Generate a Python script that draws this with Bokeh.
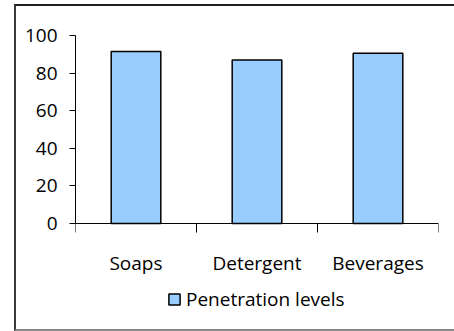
from bokeh.plotting import figure
from bokeh.models import (ColumnDataSource, FixedTicker, Legend, LegendItem,
                          InlineStyleSheet, Range1d)
from bokeh.embed import file_html
from bokeh.resources import INLINE

# Market penetration by product category (%)
categories = ["Soaps", "Detergent", "Beverages"]
penetration = [91.5, 87.0, 90.5]
y_ticks = [0, 20, 40, 60, 80, 100]
series_name = "Penetration levels"

FONT = "Open Sans"
FONT_SIZE = "19px"

# each category occupies one unit; bars sit in the middle of their slot
x_pos = [i + 0.5 for i in range(len(categories))]
source = ColumnDataSource(dict(x=x_pos, top=penetration, cat=categories))

# the plot area runs down to the canvas bottom so the category labels and
# the legend can live inside it, under the zero line
p = figure(width=454, height=331, output_backend="svg", toolbar_location=None,
           x_range=Range1d(0, len(categories)), y_range=Range1d(-57.4, 100),
           min_border_left=75, min_border_right=16,
           min_border_top=35, min_border_bottom=0)

bars = p.vbar(x="x", top="top", bottom=0, width=0.41, source=source,
              fill_color="#99CCFF", line_color="black", line_width=1.5)

p.xgrid.visible = False
p.ygrid.visible = False
p.outline_line_color = None
p.background_fill_color = "white"
p.border_fill_color = "white"

# x axis pinned to the zero line; labels centred under bars,
# tick marks on the category boundaries
xa = p.xaxis[0]
xa.fixed_location = 0
xa.ticker = FixedTicker(ticks=x_pos, minor_ticks=list(range(len(categories) + 1)))
xa.major_label_overrides = {x: c for x, c in zip(x_pos, categories)}
xa.major_tick_out = 0
xa.major_tick_in = 0
xa.minor_tick_out = 9
xa.minor_tick_in = 0
xa.minor_tick_line_color = "black"
xa.axis_line_color = "black"
xa.major_label_standoff = 17
xa.major_label_text_font = FONT
xa.major_label_text_font_size = FONT_SIZE
xa.major_label_text_color = "black"

ya = p.yaxis[0]
ya.bounds = (0, 100)
ya.ticker = FixedTicker(ticks=y_ticks)
ya.major_tick_out = 6
ya.major_tick_in = 0
ya.minor_tick_line_color = None
ya.axis_line_color = "black"
ya.major_tick_line_color = "black"
ya.major_label_standoff = 12
ya.major_label_text_font = FONT
ya.major_label_text_font_size = FONT_SIZE
ya.major_label_text_color = "black"

legend = Legend(items=[LegendItem(label=series_name, renderers=[bars])],
                location=(92, 19), orientation="horizontal",
                border_line_color=None, background_fill_alpha=0,
                glyph_width=14, glyph_height=14, label_standoff=5,
                label_text_font=FONT, label_text_font_size=FONT_SIZE,
                label_text_color="black", padding=0, margin=0)
p.add_layout(legend, "center")

# chart-area frame drawn around the canvas
p.stylesheets = [InlineStyleSheet(css="""
:host { position: relative; }
:host::after {
  content: ""; position: absolute; left: 14px; top: 4px;
  width: 440px; height: 327px; box-sizing: border-box;
  border-left: 2px solid #3a3a3a; border-top: 2px solid #1e1e1e;
  border-bottom: 2px solid #8a8a8a; pointer-events: none;
}
""")]

open("out.html", "w").write(file_html(p, INLINE))
